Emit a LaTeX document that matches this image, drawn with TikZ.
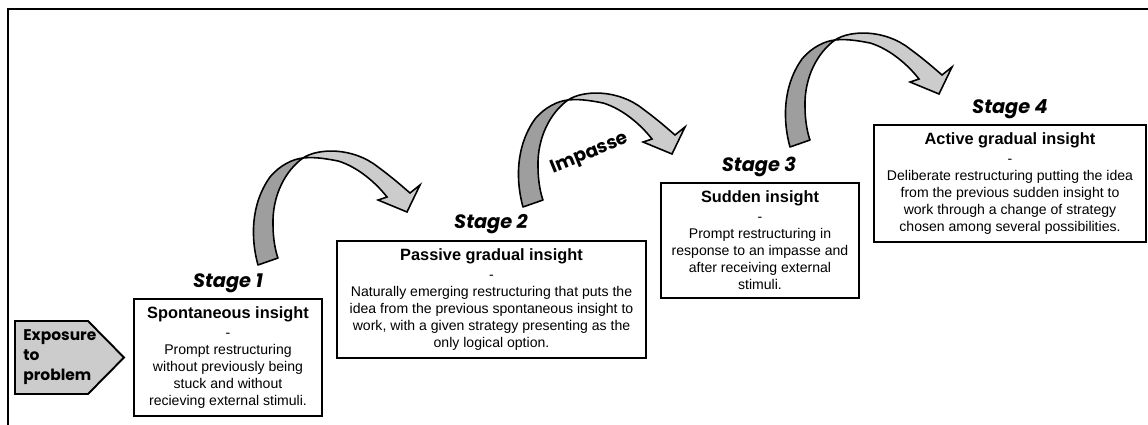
\documentclass[tikz,border=0pt]{standalone}
\usepackage{fontspec}
\setmainfont{Liberation Sans}
\newfontfamily\popp{Poppins}
\definecolor{bandlight}{gray}{0.80}
\definecolor{banddark}{gray}{0.62}
\definecolor{expgray}{gray}{0.80}
\tikzset{
  stagebox/.style={draw=black, line width=1.2pt, fill=white, align=center, inner sep=2pt,
    font=\fontsize{8}{9.7}\selectfont},
  stagelabel/.style={font=\popp\bfseries\itshape\fontsize{11}{13}\selectfont, inner sep=0pt},
  exptext/.style={font=\popp\bfseries\fontsize{8.8}{11.3}\selectfont, align=left, inner sep=0pt},
  imptext/.style={font=\popp\bfseries\fontsize{10.5}{12}\selectfont, inner sep=0pt},
  expshape/.style={draw=black, line width=1.1pt, fill=expgray, line join=miter},
  frameline/.style={draw=black, line width=1.1pt},
  curvarrow/.pic={
    \draw[line width=0.9pt, fill=banddark, line join=round]
      (0,0) .. controls (-7,-25) and (-8,-60) .. (12,-88)
      .. controls (22,-100) and (35,-106) .. (45,-107)
      .. controls (28,-95) and (14,-70) .. (15,-40)
      .. controls (15,-25) and (18,-12) .. (20,-7) -- cycle;
    \draw[line width=0.9pt, fill=bandlight, line join=miter]
      (45,-107) .. controls (60,-117) and (95,-118) .. (120,-98)
      .. controls (135,-87) and (145,-78) .. (152,-72)
      -- (162,-80) -- (149,-53) -- (120,-65) -- (129,-68)
      .. controls (118,-82) and (100,-98) .. (80,-104)
      .. controls (65,-107) and (55,-108) .. (45,-107) -- cycle;
  }
}
\newcommand{\ttl}{\bfseries\fontsize{9.3}{11}\selectfont}
\begin{document}
\begin{tikzpicture}[x=0.02cm, y=-0.02cm]
\useasboundingbox (0,0) rectangle (1148,425);
% frame
\draw[frameline] (8,425) -- (8,9) -- (1148,9);
% exposure
\draw[expshape] (15,321) -- (88,321) -- (124,357.5) -- (88,394) -- (15,394) -- cycle;
\node[exptext, anchor=west] (exp) at (23,357) {Exposure\\to\\problem};
% curved arrows
\pic (a1) at (258,265) {curvarrow};
\pic (a2) at (523,207) {curvarrow};
\pic (a3) at (790,147) {curvarrow};
\node[imptext, rotate=22] (imp) at (590,154) {Impasse};
% stage labels
\node[stagelabel] (l1) at (228,283) {Stage 1};
\node[stagelabel] (l2) at (491,224) {Stage 2};
\node[stagelabel] (l3) at (759,167) {Stage 3};
\node[stagelabel] (l4) at (1010,109) {Stage 4};
% boxes
\node[stagebox, minimum width=3.76cm, minimum height=2.34cm] (s1) at (228,357.5)
  {{\ttl Spontaneous insight}\\[1pt]-\\Prompt restructuring\\without previously being\\stuck and without\\recieving external stimuli.};
\node[stagebox, minimum width=6.18cm, minimum height=2.34cm] (s2) at (491.5,299.5)
  {{\ttl Passive gradual insight}\\[1pt]-\\Naturally emerging restructuring that puts the\\idea from the previous spontaneous insight to\\work, with a given strategy presenting as the\\only logical option.};
\node[stagebox, minimum width=3.96cm, minimum height=2.30cm] (s3) at (760,240.5)
  {{\ttl Sudden insight}\\[1pt]-\\Prompt restructuring in\\response to an impasse and\\after receiving external\\stimuli.};
\node[stagebox, minimum width=5.44cm, minimum height=2.34cm] (s4) at (1010,183.5)
  {{\ttl Active gradual insight}\\[1pt]-\\Deliberate restructuring putting the idea\\from the previous sudden insight to\\work through a change of strategy\\chosen among several possibilities.};
\end{tikzpicture}
\end{document}
